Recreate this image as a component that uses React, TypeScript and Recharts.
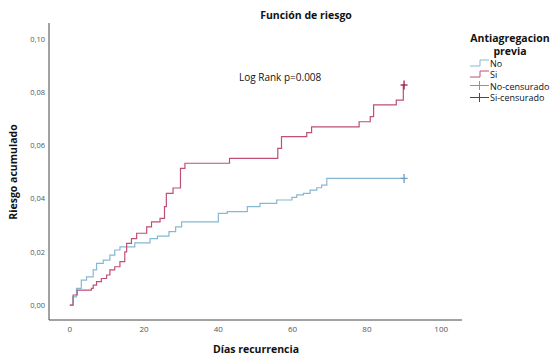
import React from "react";
import { ComposedChart, Line, Scatter, XAxis, YAxis } from "recharts";

const xTicks = [0, 20, 40, 60, 80, 100];
const yTicks = [0, 0.02, 0.04, 0.06, 0.08, 0.1];

const noDays = [0, 0.8, 1.8, 3.1, 4.5, 6.3, 7.2, 9, 10.8, 12.1, 13.5, 17.5, 21.6, 23.6, 26.7, 28.5, 30.1, 40, 42.4, 47.8, 51.2, 55.7, 59.8, 61.1, 62.9, 64.7, 66.5, 67.8, 69.2, 90];
const noRisk = [0, 0.0031, 0.0063, 0.0094, 0.0106, 0.0132, 0.0157, 0.0169, 0.0188, 0.0207, 0.0219, 0.0234, 0.025, 0.0259, 0.0276, 0.0294, 0.0313, 0.0345, 0.0351, 0.037, 0.0382, 0.0395, 0.0405, 0.0414, 0.042, 0.0432, 0.0441, 0.0451, 0.0476, 0.0476];

const siDays = [0, 0.9, 2, 5.8, 6.3, 7.2, 8.5, 9.9, 10.8, 12.1, 13.5, 14.8, 15.3, 16.6, 18, 20.7, 22, 24.3, 25.5, 26, 27.8, 29.8, 31, 43, 56, 57, 63.8, 65.1, 77.9, 80.9, 81.8, 87.9, 89.8, 90];
const siRisk = [0, 0.0038, 0.0056, 0.0063, 0.0075, 0.0088, 0.01, 0.0113, 0.0132, 0.0144, 0.0163, 0.02, 0.0232, 0.025, 0.027, 0.0294, 0.0313, 0.0326, 0.037, 0.042, 0.044, 0.0514, 0.0533, 0.0551, 0.0589, 0.0633, 0.0648, 0.067, 0.0689, 0.0708, 0.0752, 0.077, 0.0827, 0.0827];

const noData = noDays.map((d, i) => ({ d, v: noRisk[i] }));
const siData = siDays.map((d, i) => ({ d, v: siRisk[i] }));
const noCens = [{ d: noDays[noDays.length - 1], v: noRisk[noRisk.length - 1] }];
const siCens = [{ d: siDays[siDays.length - 1], v: siRisk[siRisk.length - 1] }];

const RED = "#bf4f74";
const BLUE = "#86b8d4";
const RED_DARK = "#9c1f48";
const BLUE_DARK = "#6a9cc4";
const FONT = "'Open Sans', 'DejaVu Sans', sans-serif";

const plus = (color: string) => (props: any) => {
  const { cx, cy } = props;
  return (
    <g>
      <line x1={cx - 3.5} x2={cx + 3.5} y1={cy} y2={cy} stroke={color} strokeWidth={1.3} />
      <line x1={cx} x2={cx} y1={cy - 4.5} y2={cy + 4.5} stroke={color} strokeWidth={1.3} />
    </g>
  );
};

const fmt = (v: number) => v.toFixed(2).replace(".", ",");

const StepIcon = ({ color }: { color: string }) => (
  <svg width={19} height={8} style={{ position: "absolute", left: 0, top: -4 }}>
    <path d={`M0,7 H10 V1 H19`} fill="none" stroke={color} strokeWidth={1} />
  </svg>
);
const PlusIcon = ({ color }: { color: string }) => (
  <svg width={19} height={9} style={{ position: "absolute", left: 0, top: -4.5 }}>
    <path d={`M0,4.5 H19 M9.5,0 V9`} fill="none" stroke={color} strokeWidth={1} />
  </svg>
);

const legendItems = [
  { label: "No", icon: <StepIcon color={BLUE} />, y: 54.5 },
  { label: "Si", icon: <StepIcon color={RED} />, y: 66 },
  { label: "No-censurado", icon: <PlusIcon color={BLUE_DARK} />, y: 77.5 },
  { label: "Si-censurado", icon: <PlusIcon color={RED_DARK} />, y: 89 },
];

export default function App() {
  const abs = (s: React.CSSProperties): React.CSSProperties => ({ position: "absolute", fontFamily: FONT, color: "#111", whiteSpace: "nowrap", lineHeight: 1, ...s });
  return (
    <div style={{ position: "relative", width: 550, height: 351, background: "#fff" }}>
      <ComposedChart width={550} height={351} margin={{ top: 15, right: 96, bottom: 19, left: 11 }}>
        <XAxis
          type="number"
          dataKey="d"
          domain={[-5.6, 105.6]}
          ticks={xTicks}
          allowDataOverflow
          tickLine={false}
          tickSize={0}
          tickMargin={6}
          height={20}
          stroke="#444"
          tick={{ fontSize: 8, fill: "#555", fontFamily: FONT }}
        />
        <YAxis
          type="number"
          dataKey="v"
          domain={[-0.0056, 0.106]}
          ticks={yTicks}
          allowDataOverflow
          tickFormatter={fmt}
          tickLine={false}
          tickSize={0}
          tickMargin={4}
          width={30}
          stroke="#444"
          tick={{ fontSize: 7.5, fill: "#555", fontFamily: FONT }}
        />
        <Line data={noData} dataKey="v" type="stepAfter" stroke={BLUE} strokeWidth={1.2} dot={false} isAnimationActive={false} />
        <Line data={siData} dataKey="v" type="stepAfter" stroke={RED} strokeWidth={1.2} dot={false} isAnimationActive={false} />
        <Scatter data={noCens} dataKey="v" shape={plus(BLUE_DARK)} isAnimationActive={false} />
        <Scatter data={siCens} dataKey="v" shape={plus(RED_DARK)} isAnimationActive={false} />
      </ComposedChart>
      <div style={abs({ left: 298, top: 7, transform: "translate(-50%,-50%)", fontSize: 10.5, fontWeight: 700 })}>Función de riesgo</div>
      <div style={abs({ left: 231, top: 69, transform: "translateY(-50%)", fontSize: 10 })}>Log Rank p=0.008</div>
      <div style={abs({ left: 248, top: 341, transform: "translate(-50%,-50%)", fontSize: 10.5, fontWeight: 700 })}>Días recurrencia</div>
      <div style={abs({ left: 5, top: 164, transform: "translate(-50%,-50%) rotate(-90deg)", fontSize: 10.5, fontWeight: 700 })}>Riesgo acumulado</div>
      <div style={abs({ left: 502, top: 29.5, transform: "translate(-50%,-50%)", fontSize: 10.5, fontWeight: 700 })}>Antiagregacion</div>
      <div style={abs({ left: 502, top: 43, transform: "translate(-50%,-50%)", fontSize: 10.5, fontWeight: 700 })}>previa</div>
      {legendItems.map((it) => (
        <div key={it.label} style={abs({ left: 462, top: it.y, height: 0 })}>
          {it.icon}
          <span style={{ position: "absolute", left: 20, top: 0, transform: "translateY(-50%)", fontSize: 9, fontFamily: FONT }}>{it.label}</span>
        </div>
      ))}
    </div>
  );
}
